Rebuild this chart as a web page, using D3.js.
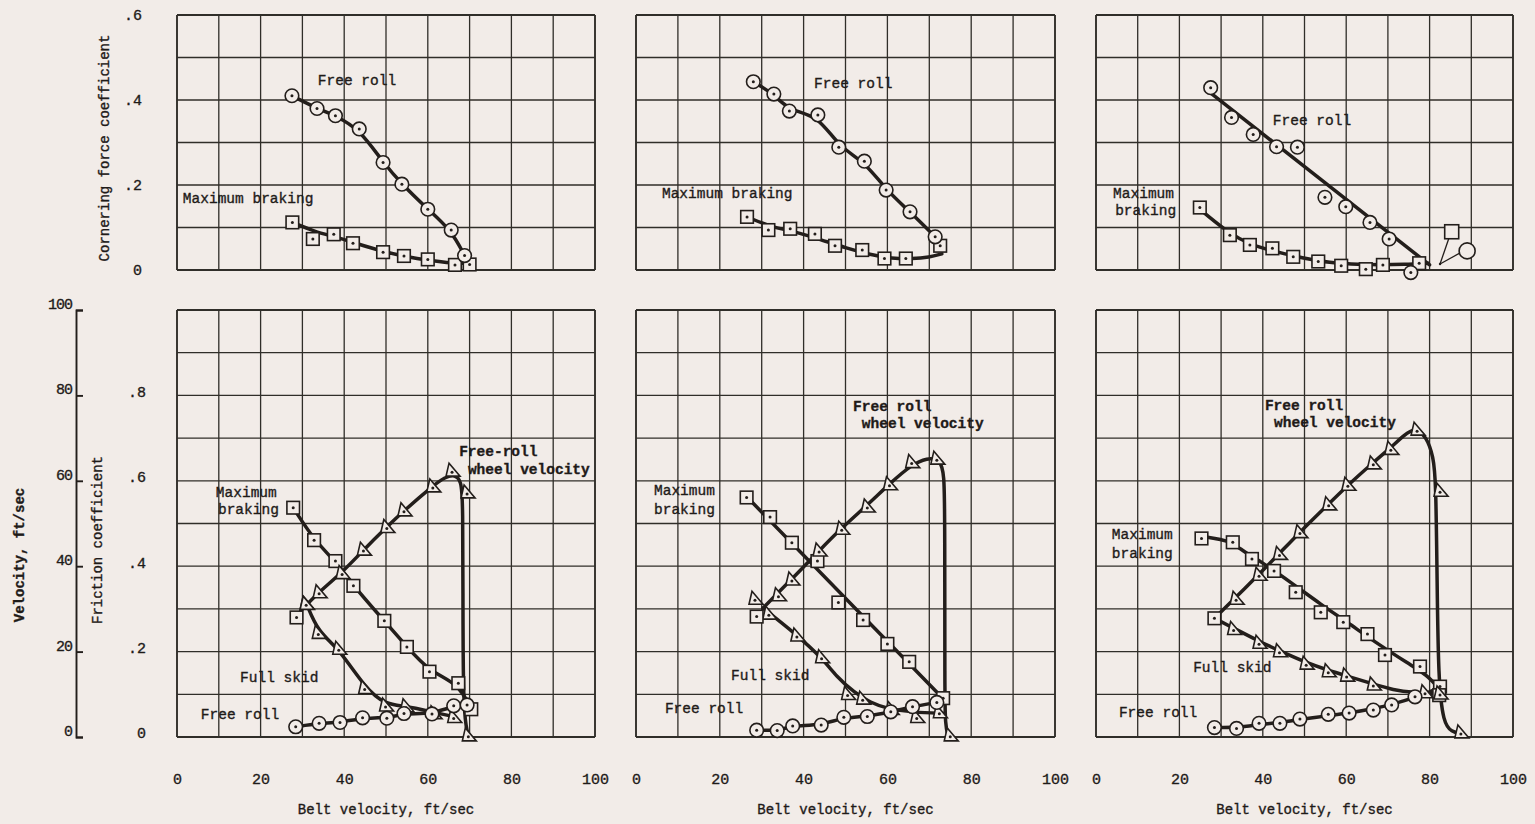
<!DOCTYPE html>
<html>
<head>
<meta charset="utf-8">
<script src="https://cdn.jsdelivr.net/npm/d3@7"></script>
<style>
body { margin: 0; background: #f2ece8; }
text { font-family: "Liberation Mono", "DejaVu Sans Mono", monospace; fill: #1f1b19; stroke: #1f1b19; stroke-width: 0.35px; }
</style>
</head>
<body>
<svg id="fig" width="1535" height="824"></svg>
<script>
// tick labels
var beltTicks = [0, 20, 40, 60, 80, 100]
var cornerTicks = [0, .2, .4, .6]
var frictionTicks = [0, .2, .4, .6, .8]
var velocityTicks = [0, 20, 40, 60, 80, 100]

// ---- panel a ----  [belt velocity, coefficient]  (wheel: [belt, ft/sec])
var aCornerFree = [[27.5,.410],[33.5,.380],[37.9,.363],[43.6,.332],[49.3,.253],[53.8,.202],[60.0,.143],[65.6,.094],[68.8,.034]]
var aCornerBrake = [[27.6,.112],[32.5,.073],[37.5,.084],[42.1,.063],[49.3,.042],[54.3,.033],[60.0,.025],[66.5,.012],[70.0,.013]]
var aCornerBrakeFair = [[27.6,.112],[33,.090],[38,.078],[43,.062],[49,.044],[55,.031],[60,.023],[66,.016],[70,.016]]
var aFricBrake = [[27.8,.537],[32.8,.461],[37.9,.412],[42.2,.354],[49.6,.272],[55.0,.211],[60.4,.153],[67.3,.126],[70.4,.065]]
var aFricSkid = [[30.9,.314],[33.8,.245],[38.7,.208],[44.9,.116],[49.9,.075],[54.8,.073],[61.5,.057],[66.2,.048]]
var aFricFree = [[28.4,.024],[34.0,.032],[39.0,.034],[44.4,.045],[50.2,.044],[54.3,.055],[61.0,.054],[66.2,.073],[69.4,.075]]
var aWheel = [[30.9,31.3],[34.0,34.0],[39.5,38.5],[44.6,44.0],[50.2,49.3],[54.3,53.2],[61.2,58.8],[65.8,62.5],[69.4,57.4],[69.7,0.5]]
var aWheelFair = [[29.6,29.5],[34,34],[39.5,38.5],[44.6,43.8],[50.2,49.2],[54.3,53],[61.2,58.8],[64,60.8],[66.5,61.5],[68,60],[68.4,55],[68.4,30],[68.5,8],[69.2,2],[69.7,0.5]]
var aStart = [[28.6,.28]]

// ---- panel b ----
var bCornerFree = [[28.0,.443],[32.9,.414],[36.6,.374],[43.4,.365],[48.4,.289],[54.5,.256],[59.7,.188],[65.4,.137],[71.4,.078]]
var bCornerBrake = [[26.5,.125],[31.6,.094],[36.8,.097],[42.7,.085],[47.5,.057],[54.0,.047],[59.3,.027],[64.4,.027],[72.6,.057]]
var bCornerBrakeFair = [[26.5,.125],[32,.102],[38,.090],[44,.072],[50,.052],[56,.036],[61,.027],[66,.026],[70,.030],[73,.038]]
var bFricBrake = [[26.4,.561],[32.0,.515],[37.2,.455],[43.3,.412],[48.3,.315],[54.2,.274],[60.0,.218],[65.2,.176],[73.3,.091]]
var bFricBrakeFair = [[26.8,.559],[73.5,.088]]
var bFricSkid = [[31.7,.290],[38.4,.239],[44.3,.188],[50.5,.102],[54.1,.091],[60.9,.067],[67.0,.048],[72.4,.059]]
var bFricSkidFair = [[30.4,.301],[38.4,.239],[44.3,.186],[48,.14],[52,.105],[56,.08],[60,.066],[66,.058],[73.5,.055]]
var bFricFree = [[28.8,.016],[33.7,.015],[37.4,.026],[44.2,.028],[49.6,.046],[55.2,.048],[60.8,.059],[66.0,.071],[71.8,.081]]
var bWheel = [[28.4,32.5],[34.0,33.3],[37.2,37.0],[43.7,43.8],[49.1,48.9],[55.2,54.1],[60.5,59.3],[65.8,64.5],[71.8,65.3],[75.0,0.5]]
var bWheelFair = [[30.3,30.2],[37.2,37],[43.7,43.6],[49.1,49],[55.2,54.3],[60.5,59.3],[65.8,63.8],[69.5,65.4],[72.5,65],[73.6,62],[73.7,50],[73.7,10],[73.8,3],[74.5,0]]
var bStart = [[28.8,.282]]

// ---- panel c ----
var cCornerFree = [[27.5,.429],[32.5,.359],[37.7,.319],[43.3,.290],[48.3,.289],[54.9,.171],[59.9,.149],[65.7,.112],[70.3,.073],[75.5,-.006]]
var cCornerFreeFair = [[27.3,.418],[80.0,.012]]
var cCornerBrake = [[24.9,.147],[32.1,.082],[36.9,.059],[42.3,.051],[47.3,.031],[53.3,.020],[58.8,.010],[64.7,.002],[68.8,.012],[77.5,.016]]
var cCornerBrakeFair = [[26.1,.133],[31.7,.088],[36.9,.060],[42,.046],[47.3,.033],[52,.024],[57,.016],[63,.013],[68,.012],[74,.013],[79.7,.016]]
var cCornerKey = [[85.3,.090],[89.0,.045]]
var cKeyOrigin = [82.5,.014]
var cFricBrake = [[25.3,.465],[32.8,.456],[37.4,.417],[42.7,.389],[47.9,.339],[53.9,.292],[59.3,.269],[65.1,.241],[69.3,.192],[77.7,.165],[82.5,.118],[82.3,.098]]
var cFricBrakeFair = [[26.1,.469],[30,.463],[32.8,.455],[36,.43],[39.3,.413],[47.3,.358],[54,.31],[60.1,.27],[68,.215],[76.1,.165],[80,.14],[82.5,.11]]
var cFricSkid = [[33.0,.254],[39.1,.222],[44.0,.202],[50.4,.173],[55.7,.155],[60.1,.145],[66.5,.124],[78.9,.106],[82.5,.103]]
var cFricSkidFair = [[28.4,.278],[33,.255],[39.1,.224],[44,.202],[50.4,.174],[55.7,.156],[60.1,.143],[66.5,.124],[71.3,.110],[76,.104],[82.5,.102]]
var cFricFree = [[28.4,.022],[33.7,.020],[39.1,.032],[44.1,.032],[48.9,.042],[55.7,.053],[60.7,.056],[66.5,.063],[70.9,.075],[76.5,.094]]
var cFricFreeFair = [[28.4,.022],[33.7,.022],[39.1,.029],[44.1,.034],[48.9,.041],[55.7,.050],[60.7,.056],[66.5,.066],[70.9,.076],[76.5,.092],[80.5,.108]]
var cWheel = [[33.6,32.5],[39.1,38.1],[44.0,43.0],[48.9,48.1],[55.8,54.6],[60.4,59.2],[66.5,64.2],[70.7,67.6],[77.0,72.1],[82.5,57.8],[87.5,1.2]]
var cWheelFair = [[28.4,27.8],[33.6,32.8],[39.1,38.1],[44,43],[48.9,48],[55.8,54.6],[60.4,59],[66.5,64.3],[70.7,67.8],[74,70.8],[76.5,72.5],[79.3,70.3],[80.9,65.6],[81.5,60.2],[81.8,36.8],[82.1,13.3],[83.3,3.2],[85.3,1.2],[87.5,0.8]]
var cStart = [[28.4,.278]]

// annotations: [text, belt, coefficient, bold]
var aTopNotes = [["Free roll",33.7,.435],["Maximum braking",1.4,.158]]
var bTopNotes = [["Free roll",42.5,.428],["Maximum braking",6.2,.169]]
var cTopNotes = [["Free roll",42.4,.341],["Maximum",4.1,.169],["braking",4.6,.129]]
var aBotNotes = [["Free-roll",67.5,.658,1],["wheel velocity",69.6,.616,1],["Maximum",9.3,.562],["braking",9.8,.522],["Full skid",15.1,.129],["Free roll",5.7,.042]]
var bBotNotes = [["Free roll",51.8,.763,1],["wheel velocity",53.9,.724,1],["Maximum",4.3,.567],["braking",4.3,.522],["Full skid",22.7,.133],["Free roll",6.9,.056]]
var cBotNotes = [["Free roll",40.5,.766,1],["wheel velocity",42.7,.726,1],["Maximum",3.8,.464],["braking",3.8,.419],["Full skid",23.3,.152],["Free roll",5.5,.047]]

var ink = "#231e1b"
var paper = "#f2ece8"
var svg = d3.select("#fig")

var panels = [
    {x0: 177, x1: 595, top: [[aCornerFree], [aCornerBrake, aCornerBrakeFair]], topNotes: aTopNotes,
     fric: [[aFricBrake, null, "sq"], [aFricSkid, null, "tri"], [aFricFree, null, "ci"]], wheel: [aWheel, aWheelFair], start: aStart, botNotes: aBotNotes},
    {x0: 636, x1: 1055, top: [[bCornerFree], [bCornerBrake, bCornerBrakeFair]], topNotes: bTopNotes,
     fric: [[bFricBrake, bFricBrakeFair, "sq"], [bFricSkid, bFricSkidFair, "tri"], [bFricFree, null, "ci"]], wheel: [bWheel, bWheelFair], start: bStart, botNotes: bBotNotes},
    {x0: 1096, x1: 1513, top: [[cCornerFree, cCornerFreeFair], [cCornerBrake, cCornerBrakeFair]], topNotes: cTopNotes,
     fric: [[cFricBrake, cFricBrakeFair, "sq"], [cFricSkid, cFricSkidFair, "tri"], [cFricFree, cFricFreeFair, "ci"]], wheel: [cWheel, cWheelFair], start: cStart, botNotes: cBotNotes}
]

var yCorner = d3.scaleLinear().domain([0, .6]).range([270, 15])
var yFric = d3.scaleLinear().domain([0, 1]).range([737, 310])
var yVel = d3.scaleLinear().domain([0, 100]).range([737, 310])

function grid(g, x, y, ny) {
    g.selectAll("line.v").data(d3.range(0, 101, 10)).enter().append("line")
        .attr("x1", d => x(d)).attr("x2", d => x(d))
        .attr("y1", y.range()[0]).attr("y2", y.range()[1])
        .attr("stroke", "#302e29").attr("stroke-width", d => (d == 0 || d == 100) ? 1.9 : 1.3)
    g.selectAll("line.h").data(ny).enter().append("line")
        .attr("x1", x(0)).attr("x2", x(100))
        .attr("y1", d => y(d)).attr("y2", d => y(d))
        .attr("stroke", "#302e29").attr("stroke-width", (d, i) => (i == 0 || i == ny.length - 1) ? 1.9 : 1.3)
}

function curve(g, pts, x, y) {
    var line = d3.line().x(d => x(d[0])).y(d => y(d[1])).curve(d3.curveBasis)
    g.append("path").attr("d", line(pts))
        .attr("fill", "none").attr("stroke", ink).attr("stroke-width", 3.5)
        .attr("stroke-linecap", "round").attr("stroke-linejoin", "round")
}

function markers(g, pts, x, y, kind, dot) {
    var m = g.selectAll(null).data(pts).enter().append("g")
        .attr("transform", d => "translate(" + x(d[0]) + "," + y(d[1]) + ")")
    if (kind == "ci") {
        m.append("circle").attr("r", 6.8)
    } else if (kind == "sq") {
        m.append("rect").attr("x", -6.3).attr("y", -6.3).attr("width", 12.6).attr("height", 12.6)
    } else {
        m.append("path").attr("d", "M-6,6 L-3,-7 L8,6 Z")
    }
    m.selectAll("circle,rect,path").attr("fill", paper).attr("stroke", ink).attr("stroke-width", 1.6)
    if (dot !== false) m.append("circle").attr("r", 1.5).attr("cy", kind == "tri" ? 2 : 0).attr("fill", ink).attr("stroke", "none")
}

function notes(g, list, x, y) {
    g.selectAll(null).data(list).enter().append("text")
        .attr("x", d => x(d[1])).attr("y", d => y(d[2]))
        .attr("font-size", 14.5)
        .attr("font-weight", d => d[3] ? "bold" : "normal")
        .text(d => d[0])
}

panels.forEach(function(p) {
    var x = d3.scaleLinear().domain([0, 100]).range([p.x0, p.x1])

    // upper chart: cornering force
    var top = svg.append("g")
    grid(top, x, yCorner, d3.range(0, 0.61, 0.1))
    p.top.forEach(function(s) { curve(top, s[1] || s[0], x, yCorner) })
    markers(top, p.top[1][0], x, yCorner, "sq")
    markers(top, p.top[0][0], x, yCorner, "ci")
    notes(top, p.topNotes, x, yCorner)

    // lower chart: friction and wheel velocity
    var bot = svg.append("g")
    grid(bot, x, yFric, d3.range(0, 1.01, 0.1))
    p.fric.forEach(function(s) { curve(bot, s[1] || s[0], x, yFric) })
    curve(bot, p.wheel[1], x, yVel)
    p.fric.forEach(function(s) { markers(bot, s[0], x, yFric, s[2]) })
    markers(bot, p.start, x, yFric, "sq")
    markers(bot, p.wheel[0], x, yVel, "tri")
    notes(bot, p.botNotes, x, yFric)

    // belt velocity axis
    var ax = svg.append("g").attr("transform", "translate(0,770)")
        .call(d3.axisBottom(x).tickValues(beltTicks).tickSize(0).tickFormat(d3.format("d")))
    ax.select(".domain").remove()
    ax.selectAll("text").attr("font-size", 15).attr("fill", ink)
        .style("font-family", "'Liberation Mono', monospace")
    svg.append("text").attr("x", (p.x0 + p.x1) / 2).attr("y", 814)
        .attr("text-anchor", "middle").attr("font-size", 14).text("Belt velocity, ft/sec")
})

// key symbols at the end of the third cornering plot
var xc = d3.scaleLinear().domain([0, 100]).range([panels[2].x0, panels[2].x1])
svg.selectAll("line.key").data(cCornerKey).enter().append("line")
    .attr("x1", xc(cKeyOrigin[0])).attr("y1", yCorner(cKeyOrigin[1]))
    .attr("x2", (d, i) => xc(d[0]) - (i == 0 ? 3 : 7)).attr("y2", (d, i) => yCorner(d[1]) + (i == 0 ? 7 : 2))
    .attr("stroke", ink).attr("stroke-width", 1.3)
var keyG = svg.append("g")
markers(keyG, [cCornerKey[0]], xc, yCorner, "sq", false)
markers(keyG, [cCornerKey[1]], xc, yCorner, "ci", false)
keyG.selectAll("rect").attr("x", -7).attr("y", -7).attr("width", 14).attr("height", 14)
keyG.selectAll("circle").attr("r", 8)
svg.append("circle").attr("cx", xc(cKeyOrigin[0])).attr("cy", yCorner(cKeyOrigin[1])).attr("r", 1.2).attr("fill", ink)

// left axes
var fmtDot = d => d == 0 ? "0" : d3.format(".1f")(d).replace("0.", ".")
var yAxC = svg.append("g").attr("transform", "translate(145,0)")
    .call(d3.axisLeft(yCorner).tickValues(cornerTicks).tickSize(0).tickFormat(fmtDot))
yAxC.select(".domain").remove()
yAxC.selectAll("text").attr("font-size", 15).attr("fill", ink).style("font-family", "'Liberation Mono', monospace")

var yAxF = svg.append("g").attr("transform", "translate(149,-4)")
    .call(d3.axisLeft(yFric).tickValues(frictionTicks).tickSize(0).tickFormat(fmtDot))
yAxF.select(".domain").remove()
yAxF.selectAll("text").attr("font-size", 15).attr("fill", ink).style("font-family", "'Liberation Mono', monospace")

var yAxV = svg.append("g").attr("transform", "translate(76,0)")
    .call(d3.axisRight(yVel).tickValues(velocityTicks).tickSize(7).tickFormat(""))
yAxV.select(".domain").attr("stroke", ink).attr("stroke-width", 1.9)
yAxV.selectAll("line").attr("stroke", ink).attr("stroke-width", 1.9)
svg.selectAll("text.vel").data(velocityTicks).enter().append("text")
    .attr("x", 72).attr("y", d => yVel(d) - 1)
    .attr("text-anchor", "end").attr("font-size", 15).attr("letter-spacing", -1).text(d => d)

// axis titles
svg.append("text").attr("transform", "translate(24,555) rotate(-90)")
    .attr("text-anchor", "middle").attr("font-size", 14).attr("font-weight", "bold").text("Velocity, ft/sec")
svg.append("text").attr("transform", "translate(102,540) rotate(-90)")
    .attr("text-anchor", "middle").attr("font-size", 14).text("Friction coefficient")
svg.append("text").attr("transform", "translate(109,148) rotate(-90)")
    .attr("text-anchor", "middle").attr("font-size", 14).text("Cornering force coefficient")
</script>
</body>
</html>
